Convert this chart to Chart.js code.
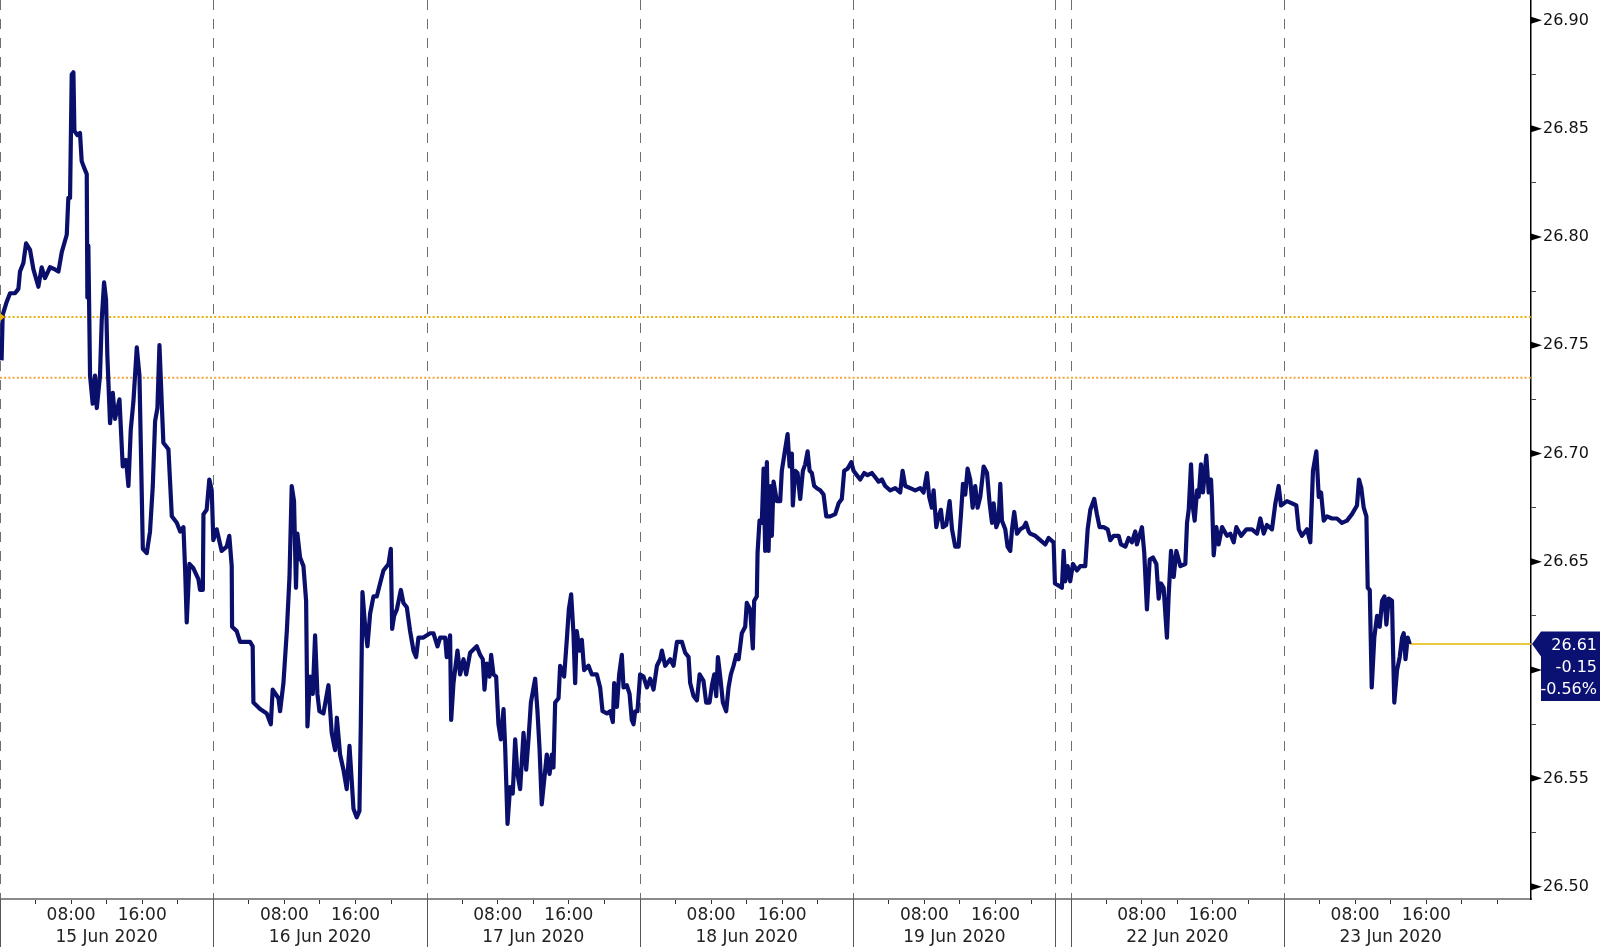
<!DOCTYPE html>
<html>
<head>
<meta charset="utf-8">
<title>Intraday chart 15-23 Jun 2020</title>
<script src="https://cdn.jsdelivr.net/npm/chart.js@4/dist/chart.umd.min.js"></script>
<style>
  html, body { margin: 0; padding: 0; background: #ffffff; }
  #wrap { width: 1600px; height: 947px; position: relative; }
</style>
</head>
<body>
<div id="wrap"><canvas id="chart"></canvas></div>
<script>
/* ============================================
   Price chart, 15 Jun 2020 - 23 Jun 2020
   ============================================ */

// x values are hours on the session axis (15 Jun 00:00 = 0)
const times = [
  // 15 Jun
  0.18, 0.30, 0.75, 1.13, 1.69, 2.07, 2.25, 2.63, 2.93, 3.38,
  3.76, 4.32, 4.69, 5.06, 5.63, 6.19, 6.57, 6.95, 7.51, 7.69,
  7.88, 8.07, 8.26, 8.37, 8.70, 9.00, 9.19, 9.46, 9.76, 9.83,
  9.94, 10.13, 10.43, 10.69, 10.89, 11.25, 11.45, 11.71, 11.93, 12.08,
  12.38, 12.69, 12.94, 13.44, 13.81, 14.18, 14.45, 14.71, 15.01, 15.39,
  15.69, 16.07, 16.51, 16.88, 17.19, 17.45, 17.71, 17.94, 18.20, 18.38,
  18.95, 19.33, 19.89, 20.27, 20.64, 20.83, 21.01, 21.31, 21.76, 22.32,
  22.51, 22.82, 22.89, 23.25, 23.55, 23.82,
  // 16 Jun
  24.00, 24.38, 24.94, 25.50, 25.80, 26.07, 26.11, 26.63, 27.01, 28.13,
  28.43, 28.51, 29.26, 30.01, 30.47, 30.68, 31.33, 31.51, 31.89, 32.27,
  32.57, 32.82, 33.08, 33.30, 33.46, 33.76, 34.14, 34.44, 34.59, 34.89,
  35.19, 35.45, 35.71, 35.94, 36.39, 36.95, 37.32, 37.70, 37.90, 38.26,
  38.64, 39.01, 39.32, 39.57, 39.77, 40.13, 40.44, 40.59, 40.78, 41.08,
  41.34, 41.64, 42.02, 42.39, 42.76, 43.14, 43.71, 43.97, 44.12, 44.34,
  44.65, 45.10, 45.39, 45.77, 46.14, 46.52, 46.82, 47.08, 47.64,
  // 17 Jun
  48.39, 48.77, 49.22, 49.52, 50.08, 50.26, 50.64, 50.76, 51.02, 51.47,
  51.77, 52.15, 52.45, 52.89, 53.64, 54.02, 54.32, 54.51, 54.76, 55.07,
  55.26, 55.52, 55.82, 56.08, 56.35, 56.65, 56.83, 57.10, 57.39, 57.69,
  57.96, 58.22, 58.52, 58.90, 59.20, 59.46, 59.73, 60.21, 60.47, 60.70,
  60.95, 61.22, 61.52, 61.83, 62.09, 62.27, 62.46, 62.84, 63.02, 63.47,
  63.77, 64.00, 64.26, 64.52, 64.71, 64.89, 65.20, 65.46, 65.72, 66.21,
  66.59, 67.15, 67.52, 67.79, 68.28, 68.65, 68.95, 69.10, 69.41, 69.66,
  69.96, 70.15, 70.52, 70.83, 71.08, 71.28, 71.46, 71.72,
  // 18 Jun
  72.02, 72.40, 72.78, 73.15, 73.53, 73.91, 74.27, 74.47, 74.84, 75.40,
  75.78, 76.16, 76.72, 77.09, 77.47, 77.65, 78.03, 78.41, 78.71, 79.15,
  79.45, 79.83, 80.10, 80.36, 80.58, 80.77, 81.03, 81.33, 81.70, 81.97,
  82.23, 82.53, 82.83, 83.10, 83.46, 83.84, 84.02, 84.40, 84.70, 84.85,
  85.15, 85.23, 85.45, 85.71, 85.91, 86.09, 86.28, 86.47, 86.65, 86.84,
  87.03, 87.40, 87.78, 87.96, 88.34, 88.61, 88.84, 89.09, 89.20, 89.47,
  89.73, 90.03, 90.33, 90.59, 90.86, 91.09, 91.34, 91.60, 91.90, 92.28,
  92.66, 92.96, 93.40, 93.97, 94.35, 94.71, 94.98, 95.36, 95.77,
  // 19 Jun
  96.04, 96.40, 96.78, 97.23, 97.61, 98.09, 98.47, 98.85, 99.22, 99.59,
  100.16, 100.72, 101.28, 101.55, 101.85, 102.41, 102.97, 103.53, 103.91, 104.29,
  104.54, 104.84, 105.04, 105.34, 105.60, 105.86, 106.08, 106.46, 106.84, 107.11,
  107.47, 107.85, 108.12, 108.34, 108.60, 108.86, 109.16, 109.43, 109.72, 109.99,
  110.29, 110.67, 111.05, 111.34, 111.61, 111.79, 112.09, 112.35, 112.54, 112.73,
  113.10, 113.36, 113.66, 113.86, 114.11, 114.42, 114.79, 115.17, 115.43, 115.73,
  115.91, 116.48, 117.04, 117.60, 117.98, 118.54, 118.69,
  // 22 Jun (incl. Sunday evening)
  119.11, 119.47, 119.67, 119.85, 120.12, 120.41, 120.71, 121.16, 121.54, 122.10,
  122.37, 122.67, 123.11, 123.41, 123.71, 124.17, 124.62, 124.92, 125.30, 125.86,
  126.12, 126.61, 126.98, 127.35, 127.73, 127.91, 128.48, 128.74, 129.04, 129.35,
  129.72, 130.10, 130.36, 130.62, 130.92, 131.29, 131.48, 131.75, 132.05, 132.35,
  132.80, 133.36, 133.55, 133.74, 134.00, 134.22, 134.41, 134.68, 134.86, 135.12,
  135.34, 135.72, 135.99, 136.25, 136.37, 136.55, 136.85, 137.11, 137.49, 138.05,
  138.42, 138.80, 139.10, 139.63, 140.23, 140.85, 141.43, 141.80, 142.18, 142.54,
  143.11, 143.49, 143.86, 144.12,
  // 23 Jun
  144.79, 145.36, 145.85, 146.12, 146.48, 147.05, 147.42, 147.72, 148.10, 148.37,
  148.63, 148.93, 149.30, 149.86, 150.42, 150.98, 151.55, 152.11, 152.67, 152.90,
  153.16, 153.43, 153.73, 153.88, 154.11, 154.33, 154.62, 154.93, 155.23, 155.50,
  155.76, 155.98, 156.24, 156.61, 156.72, 156.87, 157.18, 157.48, 157.75, 157.93,
  158.13, 158.38, 158.61
];

const prices = [
  // 15 Jun
  26.743, 26.764, 26.770, 26.774, 26.774, 26.776, 26.784, 26.788, 26.797, 26.794,
  26.785, 26.777, 26.786, 26.781, 26.786, 26.785, 26.784, 26.793, 26.801, 26.818,
  26.818, 26.875, 26.876, 26.849, 26.847, 26.848, 26.835, 26.832, 26.829, 26.772,
  26.796, 26.736, 26.723, 26.736, 26.721, 26.736, 26.762, 26.779, 26.771, 26.745,
  26.714, 26.728, 26.716, 26.725, 26.694, 26.697, 26.685, 26.711, 26.724, 26.749,
  26.736, 26.656, 26.654, 26.664, 26.685, 26.715, 26.721, 26.750, 26.723, 26.705,
  26.702, 26.671, 26.668, 26.664, 26.666, 26.646, 26.622, 26.649, 26.647, 26.642,
  26.637, 26.637, 26.672, 26.674, 26.688, 26.683,
  // 16 Jun
  26.660, 26.665, 26.655, 26.657, 26.662, 26.648, 26.620, 26.618, 26.613, 26.613,
  26.611, 26.585, 26.582, 26.580, 26.575, 26.591, 26.587, 26.581, 26.594, 26.618,
  26.643, 26.685, 26.678, 26.638, 26.663, 26.652, 26.648, 26.632, 26.574, 26.597,
  26.589, 26.616, 26.589, 26.581, 26.580, 26.593, 26.571, 26.563, 26.578, 26.561,
  26.554, 26.545, 26.565, 26.549, 26.536, 26.532, 26.535, 26.574, 26.636, 26.620,
  26.611, 26.626, 26.634, 26.634, 26.640, 26.646, 26.649, 26.656, 26.619, 26.625,
  26.628, 26.637, 26.631, 26.629, 26.618, 26.609, 26.606, 26.615, 26.615,
  // 17 Jun
  26.617, 26.617, 26.611, 26.615, 26.615, 26.606, 26.616, 26.577, 26.594, 26.609,
  26.598, 26.605, 26.598, 26.608, 26.611, 26.607, 26.605, 26.591, 26.603, 26.597,
  26.607, 26.598, 26.597, 26.575, 26.568, 26.582, 26.565, 26.529, 26.546, 26.543,
  26.568, 26.552, 26.545, 26.571, 26.554, 26.568, 26.585, 26.596, 26.581, 26.564,
  26.538, 26.549, 26.561, 26.552, 26.561, 26.555, 26.585, 26.587, 26.602, 26.597,
  26.614, 26.628, 26.635, 26.617, 26.594, 26.618, 26.609, 26.614, 26.600, 26.602,
  26.598, 26.598, 26.592, 26.581, 26.580, 26.581, 26.576, 26.594, 26.583, 26.598,
  26.607, 26.592, 26.593, 26.589, 26.577, 26.575, 26.581, 26.581,
  // 18 Jun
  26.598, 26.597, 26.592, 26.596, 26.591, 26.602, 26.605, 26.609, 26.602, 26.605,
  26.602, 26.613, 26.613, 26.608, 26.606, 26.594, 26.588, 26.586, 26.598, 26.595,
  26.585, 26.585, 26.593, 26.598, 26.588, 26.606, 26.597, 26.585, 26.581, 26.592,
  26.598, 26.602, 26.607, 26.605, 26.617, 26.620, 26.631, 26.628, 26.610, 26.632,
  26.634, 26.654, 26.669, 26.668, 26.693, 26.655, 26.696, 26.655, 26.685, 26.662,
  26.687, 26.678, 26.678, 26.692, 26.702, 26.709, 26.694, 26.700, 26.676, 26.692,
  26.691, 26.679, 26.692, 26.695, 26.701, 26.692, 26.691, 26.685, 26.684, 26.683,
  26.681, 26.671, 26.671, 26.672, 26.677, 26.679, 26.692, 26.693, 26.696,
  // 19 Jun
  26.692, 26.690, 26.688, 26.691, 26.690, 26.691, 26.689, 26.687, 26.688, 26.685,
  26.683, 26.684, 26.682, 26.692, 26.685, 26.684, 26.683, 26.684, 26.682, 26.691,
  26.680, 26.675, 26.683, 26.666, 26.671, 26.674, 26.666, 26.667, 26.678, 26.665,
  26.657, 26.657, 26.672, 26.686, 26.681, 26.693, 26.688, 26.675, 26.685, 26.675,
  26.680, 26.694, 26.691, 26.677, 26.668, 26.677, 26.666, 26.669, 26.686, 26.669,
  26.665, 26.657, 26.655, 26.665, 26.673, 26.663, 26.665, 26.666, 26.668, 26.664,
  26.663, 26.662, 26.660, 26.658, 26.661, 26.659, 26.640,
  // 22 Jun
  26.639, 26.638, 26.655, 26.641, 26.648, 26.641, 26.649, 26.646, 26.648, 26.648,
  26.665, 26.674, 26.679, 26.672, 26.666, 26.666, 26.665, 26.660, 26.662, 26.662,
  26.658, 26.657, 26.661, 26.659, 26.664, 26.658, 26.666, 26.654, 26.628, 26.651,
  26.652, 26.649, 26.633, 26.640, 26.638, 26.615, 26.634, 26.655, 26.643, 26.655,
  26.648, 26.649, 26.668, 26.674, 26.695, 26.675, 26.669, 26.683, 26.680, 26.695,
  26.682, 26.699, 26.682, 26.688, 26.677, 26.653, 26.666, 26.658, 26.666, 26.662,
  26.663, 26.659, 26.666, 26.662, 26.665, 26.665, 26.663, 26.670, 26.663, 26.667,
  26.665, 26.677, 26.685, 26.676,
  // 23 Jun
  26.678, 26.677, 26.676, 26.665, 26.662, 26.665, 26.659, 26.692, 26.701, 26.680,
  26.682, 26.669, 26.671, 26.670, 26.670, 26.668, 26.669, 26.672, 26.676, 26.688,
  26.684, 26.675, 26.671, 26.638, 26.637, 26.592, 26.615, 26.625, 26.620, 26.632,
  26.634, 26.621, 26.633, 26.632, 26.611, 26.585, 26.600, 26.606, 26.615, 26.617,
  26.605, 26.615, 26.612
];

// session layout on the x axis (hours)
const dayStarts = [0, 24, 48, 72, 96, 120.46, 144.46];
const dayEnds = [24, 48, 72, 96, 118.74, 144.46, 168.46];
const dayLabels = ['15 Jun 2020', '16 Jun 2020', '17 Jun 2020', '18 Jun 2020', '19 Jun 2020', '22 Jun 2020', '23 Jun 2020'];
const sessionBreaks = [0, 24, 48, 72, 96, 118.74, 120.46, 144.46];
const hourTicks = [4, 8, 12, 16, 20];
const hourLabels = { 8: '08:00', 16: '16:00' };
const X_MAX = 172.25;

// y axis
const yMajors = [26.50, 26.55, 26.60, 26.65, 26.70, 26.75, 26.80, 26.85, 26.90];
const Y_MIN = 26.4943;
const Y_MAX = 26.9094;

// reference levels
const prevClose = 26.763;
const secondLevel = 26.735;

const NAVY = '#0b0f6c';
const X_FONT = { family: 'DejaVu Sans', size: 17, lineHeight: 1.32 };
const Y_FONT = { family: 'DejaVu Sans', size: 16 };

const n = Math.min(times.length, prices.length);
const series = [];
for (let i = 0; i < n; i++) series.push({ x: times[i], y: prices[i] });
const lastT = times[n - 1];
const lastP = prices[n - 1];

function buildXTicks() {
  const ticks = [];
  dayStarts.forEach((d, i) => {
    const last = i === dayStarts.length - 1;
    const hours = last ? hourTicks.concat([24]) : hourTicks;
    hours.forEach(h => {
      if (last || d + h < dayEnds[i] + 0.01) {
        ticks.push({ value: d + h, lbl: hourLabels[h] || '', kind: 'hour' });
      }
    });
    ticks.push({ value: (d + dayEnds[i]) / 2, lbl: ['', dayLabels[i]], kind: 'date' });
  });
  return ticks.sort((a, b) => a.value - b.value);
}

function buildYTicks() {
  const ticks = [];
  yMajors.forEach((v, i) => {
    ticks.push({ value: v, isMajor: true });
    if (i < yMajors.length - 1) ticks.push({ value: +(v + 0.025).toFixed(3), isMajor: false });
  });
  return ticks;
}

const sessionLines = {
  id: 'sessionLines',
  beforeDatasetsDraw(chart) {
    const { ctx, chartArea: a, scales: { x } } = chart;
    ctx.save();
    ctx.lineWidth = 1;
    sessionBreaks.forEach(b => {
      const px = Math.round(x.getPixelForValue(b)) + 0.5;
      ctx.strokeStyle = '#6f6f6f';
      ctx.setLineDash([10, 9]);
      ctx.beginPath();
      ctx.moveTo(px, a.top);
      ctx.lineTo(px, a.bottom);
      ctx.stroke();
      ctx.setLineDash([]);
      ctx.strokeStyle = '#555555';
      ctx.beginPath();
      ctx.moveTo(px, a.bottom);
      ctx.lineTo(px, chart.height);
      ctx.stroke();
    });
    ctx.restore();
  }
};

const axisMarkers = {
  id: 'axisMarkers',
  afterDraw(chart) {
    const { ctx, chartArea: a, scales: { y } } = chart;
    ctx.save();

    // major tick flags on the price axis
    ctx.fillStyle = '#000';
    yMajors.forEach(v => {
      const py = y.getPixelForValue(v);
      ctx.beginPath();
      ctx.moveTo(a.right, py - 3.5);
      ctx.lineTo(a.right + 11, py);
      ctx.lineTo(a.right, py + 3.5);
      ctx.closePath();
      ctx.fill();
    });

    // small marker at the left edge for the previous close
    const pc = y.getPixelForValue(prevClose);
    ctx.fillStyle = '#e9b10a';
    ctx.beginPath();
    ctx.moveTo(a.left, pc - 4);
    ctx.lineTo(a.left + 5, pc);
    ctx.lineTo(a.left, pc + 4);
    ctx.closePath();
    ctx.fill();

    // last price box
    const py = y.getPixelForValue(lastP);
    const x0 = a.right;
    ctx.fillStyle = '#0a1172';
    ctx.beginPath();
    ctx.moveTo(x0 + 1, py);
    ctx.lineTo(x0 + 10, py - 12.5);
    ctx.lineTo(chart.width, py - 12.5);
    ctx.lineTo(chart.width, py + 57);
    ctx.lineTo(x0 + 10, py + 57);
    ctx.lineTo(x0 + 10, py + 12.5);
    ctx.closePath();
    ctx.fill();

    const chg = lastP - prevClose;
    const pct = chg / prevClose * 100;
    ctx.fillStyle = '#ffffff';
    ctx.font = '16px "DejaVu Sans"';
    ctx.textAlign = 'right';
    ctx.textBaseline = 'middle';
    ctx.fillText(lastP.toFixed(2), chart.width - 3, py + 2);
    ctx.fillText(chg.toFixed(2), chart.width - 3, py + 24);
    ctx.fillText(pct.toFixed(2) + '%', chart.width - 3, py + 45.5);
    ctx.restore();
  }
};

const ctx = document.getElementById('chart').getContext('2d');
new Chart(ctx, {
  type: 'line',
  data: {
    datasets: [
      {
        label: 'Price',
        data: series,
        borderColor: NAVY,
        borderWidth: 4.2,
        borderJoinStyle: 'round',
        pointRadius: 0,
        tension: 0,
        order: 0
      },
      {
        label: 'Prev close',
        data: [{ x: 0, y: prevClose }, { x: X_MAX, y: prevClose }],
        borderColor: '#e9b10a',
        borderWidth: 2,
        borderDash: [2, 2.2],
        pointRadius: 0,
        order: 2
      },
      {
        label: 'Level',
        data: [{ x: 0, y: secondLevel }, { x: X_MAX, y: secondLevel }],
        borderColor: '#f2a63a',
        borderWidth: 2,
        borderDash: [2, 2.2],
        pointRadius: 0,
        order: 2
      },
      {
        label: 'Last',
        data: [{ x: lastT, y: lastP }, { x: X_MAX, y: lastP }],
        borderColor: '#e6b400',
        borderWidth: 1.5,
        pointRadius: 0,
        order: 1
      }
    ]
  },
  options: {
    responsive: true,
    maintainAspectRatio: false,
    animation: false,
    devicePixelRatio: 1,
    layout: { padding: 0 },
    plugins: {
      legend: { display: false },
      tooltip: { enabled: false }
    },
    scales: {
      x: {
        type: 'linear',
        position: 'bottom',
        min: 0,
        max: X_MAX,
        bounds: 'data',
        afterBuildTicks: (s) => { s.ticks = buildXTicks(); },
        afterFit: (s) => { s.height = 48; s.paddingLeft = 0; s.paddingRight = 0; },
        grid: {
          drawOnChartArea: false,
          tickLength: 5,
          tickWidth: 1,
          tickColor: (c) => (c.tick && c.tick.kind === 'date') ? 'rgba(0,0,0,0)' : '#333'
        },
        border: { color: '#8a8a8a', width: 2 },
        ticks: {
          autoSkip: false,
          maxRotation: 0,
          minRotation: 0,
          padding: 0,
          color: '#222',
          font: X_FONT,
          callback: (v, i, ticks) => ticks[i].lbl
        }
      },
      y: {
        type: 'linear',
        position: 'right',
        min: Y_MIN,
        max: Y_MAX,
        bounds: 'data',
        afterBuildTicks: (s) => { s.ticks = buildYTicks(); },
        afterFit: (s) => { s.width = 69; s.paddingTop = 0; s.paddingBottom = 0; },
        grid: {
          drawOnChartArea: false,
          tickLength: 5,
          tickWidth: 1,
          tickColor: (c) => (c.tick && c.tick.isMajor) ? 'rgba(0,0,0,0)' : '#444'
        },
        border: { color: '#000', width: 1.5 },
        ticks: {
          autoSkip: false,
          padding: 7,
          color: '#111',
          font: Y_FONT,
          callback: (v, i, ticks) => ticks[i].isMajor ? v.toFixed(2) : ''
        }
      }
    }
  },
  plugins: [sessionLines, axisMarkers]
});
</script>
</body>
</html>
